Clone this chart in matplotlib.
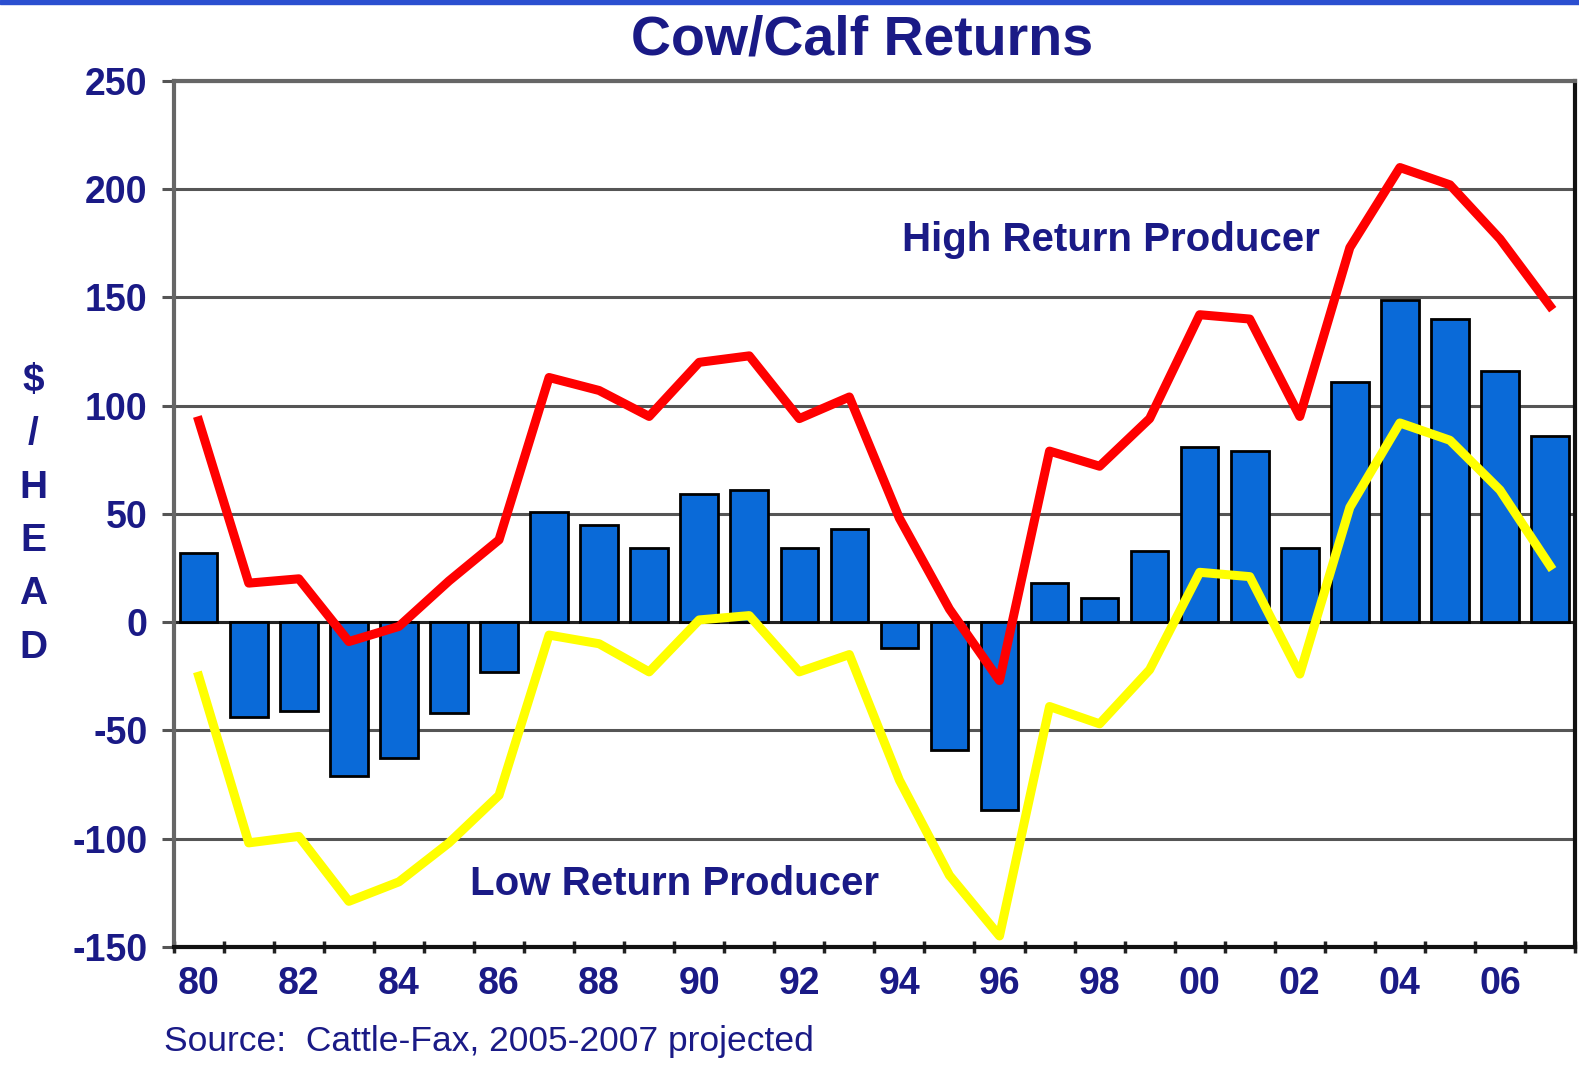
import matplotlib
matplotlib.use('Agg')
import matplotlib.pyplot as plt
from matplotlib.patches import Rectangle
import numpy as np

years = ['80', '81', '82', '83', '84', '85', '86', '87', '88', '89',
         '90', '91', '92', '93', '94', '95', '96', '97', '98', '99',
         '00', '01', '02', '03', '04', '05', '06', '07']
avg_return = [32, -44, -41, -71, -63, -42, -23, 51, 45, 34,
              59, 61, 34, 43, -12, -59, -87, 18, 11, 33,
              81, 79, 34, 111, 149, 140, 116, 86]
high_return = [93, 18, 20, -9, -2, 19, 38, 113, 107, 95,
               120, 123, 94, 104, 48, 6, -27, 79, 72, 94,
               142, 140, 95, 173, 210, 202, 177, 146]
low_return = [-25, -102, -99, -129, -120, -102, -80, -6, -10, -23,
              1, 3, -23, -15, -73, -117, -145, -39, -47, -22,
              23, 21, -24, 53, 92, 84, 61, 26]
y_ticks = [-150, -100, -50, 0, 50, 100, 150, 200, 250]

NAVY = '#1a1a86'
plt.rcParams['font.family'] = ['Liberation Sans', 'DejaVu Sans']


def main():
	fig = plt.figure(figsize=(15.79, 10.65), dpi=100)
	ax = fig.add_axes([0.110, 0.111, 0.8875, 0.813])

	x = np.arange(len(years))
	ax.bar(x, avg_return, width=0.75, color='#0a6ad8', edgecolor='black',
		   linewidth=2, zorder=3)
	ax.plot(x, high_return, color='#ff0000', linewidth=6.5, zorder=4)
	ax.plot(x, low_return, color='#ffff00', linewidth=6.5, zorder=4)

	ax.set_xlim(-0.5, len(years) - 0.5)
	ax.set_ylim(-150, 250)
	ax.set_yticks(y_ticks)
	ax.set_yticklabels([str(v) for v in y_ticks], fontsize=27,
					   fontweight='bold', color=NAVY)
	ax.yaxis.grid(True, color='#555555', linewidth=2.2, zorder=0)
	ax.axhline(0, color='#222222', linewidth=2.2, zorder=2)

	# x ticks sit between the bars, labels every other year
	ax.set_xticks(np.arange(len(years) + 1) - 0.5)
	ax.set_xticklabels([])
	ax.set_xticks(x[::2], minor=True)
	ax.set_xticklabels(years[::2], minor=True, fontsize=27,
					   fontweight='bold', color=NAVY)
	ax.tick_params(axis='x', which='minor', length=0, pad=14)
	ax.tick_params(axis='x', which='major', length=9, width=2.5,
				   direction='inout', color='#222222')
	ax.tick_params(axis='y', length=9, width=2.2, color='#555555', pad=10)

	for side in ['top', 'left']:
		ax.spines[side].set_color('#666666')
		ax.spines[side].set_linewidth(3)
	for side in ['bottom', 'right']:
		ax.spines[side].set_color('#111111')
		ax.spines[side].set_linewidth(3)

	ax.text(18.23, 176.5, 'High Return Producer', fontsize=29,
			fontweight='bold', color=NAVY, ha='center', va='center', zorder=5)
	ax.text(9.5, -121, 'Low Return Producer', fontsize=29,
			fontweight='bold', color=NAVY, ha='center', va='center', zorder=5)

	fig.text(0.546, 0.962, 'Cow/Calf Returns', fontsize=40,
			 fontweight='bold', color=NAVY, ha='center', va='center')
	fig.text(0.021, 0.517, '\n'.join('$/HEAD'), fontsize=28,
			 fontweight='bold', color=NAVY, ha='center', va='center',
			 linespacing=1.62)
	fig.text(0.104, 0.0216, 'Source:  Cattle-Fax, 2005-2007 projected',
			 fontsize=25.5, color=NAVY, ha='left', va='center')

	fig.patches.append(Rectangle((0, 0.996), 1, 0.004, transform=fig.transFigure,
								 color='#2b4fd0', zorder=10))

	plt.savefig('out.png', format='png', dpi=100)


if __name__ == '__main__':
	main()
